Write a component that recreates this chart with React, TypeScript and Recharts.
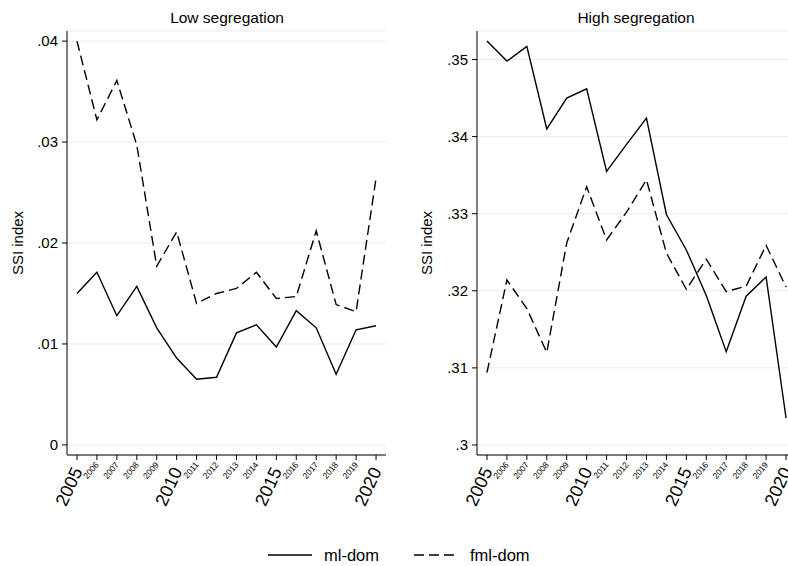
import React from "react";
import { LineChart, Line, XAxis, YAxis, CartesianGrid } from "recharts";

const years = [2005, 2006, 2007, 2008, 2009, 2010, 2011, 2012, 2013, 2014, 2015, 2016, 2017, 2018, 2019, 2020];

const lowMl = [0.0150, 0.0171, 0.0128, 0.0157, 0.0116, 0.0086, 0.0065, 0.0067, 0.0111, 0.0119, 0.0097, 0.0133, 0.0116, 0.0070, 0.0114, 0.0118];
const lowFml = [0.0400, 0.0322, 0.0361, 0.0297, 0.0177, 0.0211, 0.0140, 0.0150, 0.0155, 0.0171, 0.0145, 0.0147, 0.0212, 0.0139, 0.0132, 0.0264];

const highMl = [0.3524, 0.3498, 0.3517, 0.3410, 0.3450, 0.3462, 0.3355, 0.3390, 0.3424, 0.3299, 0.3253, 0.3194, 0.3121, 0.3193, 0.3218, 0.3035];
const highFml = [0.3094, 0.3214, 0.3177, 0.3120, 0.3262, 0.3335, 0.3266, 0.3302, 0.3344, 0.3249, 0.3202, 0.3241, 0.3199, 0.3206, 0.3259, 0.3205];

const lowTicks = [0, 0.01, 0.02, 0.03, 0.04];
const highTicks = [0.3, 0.31, 0.32, 0.33, 0.34, 0.35];

const seriesNames = ["ml-dom", "fml-dom"];
const titles = ["Low segregation", "High segregation"];
const yLabel = "SSI index";

const FONT = "'Liberation Sans', Arial, sans-serif";

const lowData = years.map((y, i) => ({ year: y, ml: lowMl[i], fml: lowFml[i] }));
const highData = years.map((y, i) => ({ year: y, ml: highMl[i], fml: highFml[i] }));

const fmt = (v: number) => {
  const s = Number(v.toFixed(4)).toString();
  return s.replace(/^0\./, ".");
};

const XTick = (props: any) => {
  const { x, y, payload } = props;
  const major = payload.value % 5 === 0;
  const ax = x + (major ? 6 : 2.5);
  const ay = y + (major ? 11 : 5);
  return (
    <text
      x={0}
      y={0}
      transform={`translate(${ax},${ay}) rotate(${major ? -65 : -50})`}
      textAnchor="end"
      fontSize={major ? 18 : 8.5}
      fontFamily={FONT}
      fill="#000"
    >
      {payload.value}
    </text>
  );
};

const Panel = (props: { data: any[]; domain: [number, number]; ticks: number[]; width: number; marginLeft: number; marginRight: number }) => {
  const { data, domain, ticks, width, marginLeft, marginRight } = props;
  return (
    <LineChart
      width={width}
      height={566}
      data={data}
      margin={{ top: 31, right: marginRight, bottom: 61, left: marginLeft }}
    >
      <CartesianGrid vertical={false} stroke="#ebebeb" strokeWidth={1} />
      <XAxis
        dataKey="year"
        type="number"
        domain={[2004.5, 2020.5]}
        ticks={years}
        interval={0}
        tick={<XTick />}
        tickSize={5}
        tickMargin={0}
        height={50}
        stroke="#000"
        allowDataOverflow
      />
      <YAxis
        type="number"
        domain={domain}
        ticks={ticks}
        tickFormatter={fmt}
        width={50}
        tickSize={5}
        tickMargin={4}
        stroke="#000"
        allowDataOverflow
        tick={{ fill: "#000", fontSize: 15, fontFamily: FONT }}
      />
      <Line type="linear" dataKey="ml" stroke="#000" strokeWidth={1.4} dot={false} isAnimationActive={false} />
      <Line type="linear" dataKey="fml" stroke="#000" strokeWidth={1.4} strokeDasharray="10 5" dot={false} isAnimationActive={false} />
    </LineChart>
  );
};

export default function App() {
  return (
    <div style={{ position: "absolute", left: 0, top: 0, width: 788, height: 566, overflow: "hidden", background: "#fff" }}>
      <div style={{ position: "absolute", left: 0, top: 0 }}>
        <Panel data={lowData} domain={[-0.001, 0.041]} ticks={lowTicks} width={394} marginLeft={17} marginRight={8} />
      </div>
      <div style={{ position: "absolute", left: 394, top: 0 }}>
        <Panel data={highData} domain={[0.2987, 0.3537]} ticks={highTicks} width={402} marginLeft={33} marginRight={0} />
      </div>
      <svg width={788} height={566} style={{ position: "absolute", left: 0, top: 0, pointerEvents: "none" }}>
        <text x={227} y={23} textAnchor="middle" fontSize={15.5} fontFamily={FONT} fill="#000">{titles[0]}</text>
        <text x={636} y={23} textAnchor="middle" fontSize={15.5} fontFamily={FONT} fill="#000">{titles[1]}</text>
        <text transform="translate(23,243) rotate(-90)" textAnchor="middle" fontSize={15} fontFamily={FONT} fill="#000">{yLabel}</text>
        <text transform="translate(432,243) rotate(-90)" textAnchor="middle" fontSize={15} fontFamily={FONT} fill="#000">{yLabel}</text>
        <line x1={268} y1={555} x2={312} y2={555} stroke="#000" strokeWidth={1.4} />
        <text x={324} y={561} fontSize={16.5} fontFamily={FONT} fill="#000">{seriesNames[0]}</text>
        <line x1={414} y1={555} x2={457} y2={555} stroke="#000" strokeWidth={1.4} strokeDasharray="10 5" />
        <text x={470} y={561} fontSize={16.5} fontFamily={FONT} fill="#000">{seriesNames[1]}</text>
      </svg>
    </div>
  );
}
